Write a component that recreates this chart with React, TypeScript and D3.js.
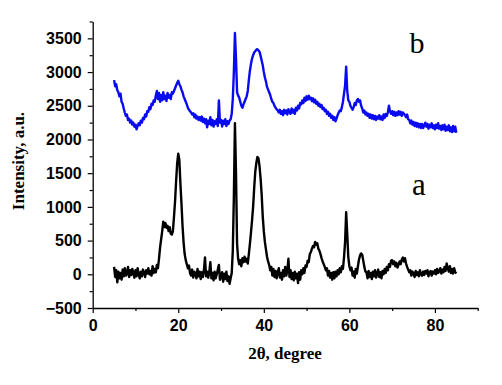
import * as d3 from 'd3';
import React, { useEffect, useRef } from 'react';

// 2-theta grid of the scan, 5..85 degree in 0.25 steps
const angles: number[] = d3.range(0, 321).map((i) => 5 + i * 0.25);

// sample a (black), 4 readings per degree starting at 5.00
const seriesA: number[] = [
  110, -40, 60, -120,
  40, -60, 20, -80,
  70, -30, 90, -20,
  10, 110, -40, 60,
  -10, 80, 20, -50,
  60, -30, 90, 0,
  -60, 40, -30, 70,
  20, -40, 60, 10,
  90, 0, 50, -20,
  120, 20, 80, 30,
  140, 90, 230, 400,
  520, 640, 780, 700,
  760, 690, 720, 640,
  700, 600, 590, 640,
  850, 1080, 1380, 1650,
  1790, 1700, 1350, 1050,
  720, 470, 300, 210,
  150, 90, 130, 20,
  -20, 70, -50, 40,
  10, -60, 80, -30,
  40, -70, 30, -40,
  60, 250, -30, 40,
  -50, 30, 180, -60,
  20, -90, 40, -60,
  0, 70, 140, -80,
  -40, 30, -110, 10,
  -70, 40, -100, -30,
  -140, -60, 20, 350,
  1150, 2240, 1500, 450,
  230, 150, 210, 120,
  240, 180, 260, 190,
  230, 160, 300, 450,
  620, 800, 1000, 1280,
  1520, 1650, 1740, 1720,
  1600, 1420, 1180, 860,
  640, 480, 370, 260,
  190, 140, 60, 110,
  -20, 80, -40, 50,
  -60, 30, 90, -50,
  20, -80, 60, -30,
  110, -20, 50, 230,
  -40, 60, -70, 20,
  -90, 40, -60, 10,
  -130, 30, -80, 60,
  0, 90, 20, 130,
  110, 200, 180, 300,
  330, 380, 420, 400,
  480, 440, 460, 380,
  350, 300, 240, 190,
  150, 110, 60, 90,
  -20, 50, -50, 20,
  -80, 30, -60, 40,
  -30, 60, 0, 90,
  30, 120, 80, 250,
  480, 920, 600, 250,
  120, 60, 100, -20,
  40, -50, 80, 10,
  120, 220, 280, 310,
  290, 200, 110, 40,
  30, -60, 50, -40,
  20, -70, 40, -30,
  60, -50, 10, 70,
  -40, 30, -60, 50,
  0, 80, 20, 110,
  60, 150, 110, 200,
  210, 150, 190, 120,
  170, 100, 140, 190,
  150, 220, 250, 190,
  240, 160, 110, 70,
  30, 60, -20, 40,
  10, -40, 50, -10,
  30, -30, 60, 0,
  -20, 40, -10, 50,
  10, 60, -30, 30,
  50, -20, 40, 10,
  60, 0, 80, 20,
  40, 90, 10, 70,
  30, 110, 50, 160,
  90, 40, 120, 20,
  80, 10, 90, 30,
  10,
];

// sample b (blue), same grid
const seriesB: number[] = [
  2880, 2790, 2820, 2730,
  2700, 2640, 2680, 2560,
  2530, 2460, 2400, 2350,
  2370, 2290, 2310, 2250,
  2280, 2220, 2250, 2190,
  2220, 2150, 2200, 2240,
  2210, 2280, 2250, 2320,
  2300, 2370, 2340, 2420,
  2410, 2480, 2450, 2530,
  2510, 2580, 2560, 2650,
  2720, 2600, 2690, 2560,
  2660, 2580, 2700, 2600,
  2650, 2570, 2690, 2620,
  2660, 2600, 2700, 2680,
  2720, 2760, 2800, 2840,
  2870, 2820, 2790, 2740,
  2700, 2640, 2600, 2560,
  2520, 2470, 2440, 2420,
  2400, 2370, 2390, 2330,
  2370, 2310, 2340, 2290,
  2330, 2280, 2340, 2260,
  2310, 2240, 2300, 2180,
  2280, 2230, 2330, 2210,
  2290, 2190, 2270, 2230,
  2300, 2200, 2580, 2250,
  2290, 2190, 2280, 2230,
  2300, 2200, 2270, 2230,
  2280, 2300, 2380, 2600,
  3000, 3580, 3200, 2700,
  2650, 2620, 2560, 2500,
  2470, 2520, 2560, 2600,
  2640, 2720, 2880, 3020,
  3120, 3200, 3250, 3290,
  3310, 3330, 3340, 3320,
  3300, 3240, 3170, 3100,
  3000, 2920, 2860, 2780,
  2740, 2700, 2660, 2600,
  2560, 2540, 2500, 2470,
  2450, 2430, 2400, 2440,
  2380, 2420, 2360, 2440,
  2390, 2430, 2370, 2450,
  2410, 2380, 2460, 2400,
  2440, 2380, 2470, 2430,
  2500, 2460, 2540, 2520,
  2580, 2540, 2620, 2570,
  2640, 2590, 2650, 2600,
  2620, 2570, 2610, 2550,
  2590, 2530, 2560, 2500,
  2530, 2480, 2510, 2450,
  2470, 2420, 2440, 2380,
  2410, 2350, 2380, 2320,
  2350, 2290, 2330, 2270,
  2310, 2360, 2400, 2430,
  2420, 2480, 2560, 2680,
  2800, 3080, 2720, 2580,
  2560, 2500, 2470, 2440,
  2480, 2540, 2510, 2580,
  2600, 2560, 2580, 2500,
  2460, 2400, 2430, 2370,
  2400, 2350, 2380, 2320,
  2370, 2310, 2360, 2300,
  2350, 2290, 2340, 2310,
  2360, 2300, 2340, 2290,
  2370, 2320, 2380, 2350,
  2400, 2500, 2420, 2380,
  2420, 2360, 2410, 2350,
  2400, 2360, 2420, 2370,
  2410, 2350, 2400, 2380,
  2360, 2330, 2370, 2300,
  2290, 2240, 2280, 2220,
  2260, 2200, 2250, 2190,
  2240, 2180, 2230, 2170,
  2230, 2170, 2210, 2250,
  2190, 2230, 2160, 2220,
  2180, 2240, 2170, 2210,
  2150, 2220, 2170, 2240,
  2160, 2200, 2140, 2210,
  2150, 2220, 2130, 2190,
  2140, 2210, 2120, 2180,
  2110, 2200, 2120, 2190,
  2100,
];

const xMajorTicks = [0, 20, 40, 60, 80];
const xMinorTicks = [10, 30, 50, 70, 90];
const yMajorTicks = [-500, 0, 500, 1000, 1500, 2000, 2500, 3000, 3500];
const yMinorTicks = [-250, 250, 750, 1250, 1750, 2250, 2750, 3250, 3750];

const App = () => {
  const chartRef = useRef<SVGSVGElement>(null);

  useEffect(() => {
    const svg = d3.select(chartRef.current);
    svg.selectAll('*').remove();

    const x = d3.scaleLinear().domain([0, 90]).range([92.7, 477.7]);
    const y = d3.scaleLinear().domain([-500, 3750]).range([308, 21.5]);

    const line = d3.line<number>()
      .x((_, i) => x(angles[i]))
      .y((d) => y(d));

    // curves
    svg.append('path')
      .datum(seriesB)
      .attr('d', line)
      .attr('fill', 'none')
      .attr('stroke', '#0a0af0')
      .attr('stroke-width', 2.4)
      .attr('stroke-linejoin', 'round');

    svg.append('path')
      .datum(seriesA)
      .attr('d', line)
      .attr('fill', 'none')
      .attr('stroke', '#000')
      .attr('stroke-width', 2.4)
      .attr('stroke-linejoin', 'round');

    // x axis
    const gx = svg.append('g').attr('transform', 'translate(0,308)');
    gx.call(d3.axisBottom(x).tickValues(xMinorTicks).tickSize(3).tickFormat(() => '').tickSizeOuter(0));
    gx.call((g) => g.select('.domain').remove());
    const gx2 = svg.append('g').attr('transform', 'translate(0,308)');
    gx2.call(d3.axisBottom(x).tickValues(xMajorTicks).tickSize(5).tickPadding(7).tickSizeOuter(0).tickFormat(d3.format('d')));

    // y axis
    const gy = svg.append('g').attr('transform', 'translate(92.7,0)');
    gy.call(d3.axisLeft(y).tickValues(yMinorTicks).tickSize(3).tickFormat(() => '').tickSizeOuter(0));
    gy.call((g) => g.select('.domain').remove());
    const gy2 = svg.append('g').attr('transform', 'translate(92.7,0)');
    gy2.call(d3.axisLeft(y).tickValues(yMajorTicks).tickSize(5).tickPadding(6).tickSizeOuter(0).tickFormat(d3.format('d')));

    svg.selectAll('.domain').attr('stroke', '#000').attr('stroke-width', 1.3);
    svg.selectAll('.tick line').attr('stroke', '#000').attr('stroke-width', 1.2);
    svg.selectAll('.tick text')
      .attr('fill', '#000')
      .attr('font-family', '"Liberation Sans", Arial, sans-serif')
      .attr('font-weight', 'bold')
      .attr('font-size', 16);

    // axis titles
    svg.append('text')
      .text('Intensity, a.u.')
      .attr('transform', 'translate(24,161) rotate(-90)')
      .attr('text-anchor', 'middle')
      .attr('font-family', '"Liberation Serif", "Times New Roman", serif')
      .attr('font-weight', 'bold')
      .attr('font-size', 17);

    svg.append('text')
      .text('2θ, degree')
      .attr('x', 285)
      .attr('y', 359)
      .attr('text-anchor', 'middle')
      .attr('font-family', '"Liberation Serif", "Times New Roman", serif')
      .attr('font-weight', 'bold')
      .attr('font-size', 17);

    // curve labels
    svg.append('text')
      .text('b')
      .attr('x', 417)
      .attr('y', 53)
      .attr('text-anchor', 'middle')
      .attr('font-family', '"Liberation Serif", "Times New Roman", serif')
      .attr('font-size', 30);

    svg.append('text')
      .text('a')
      .attr('x', 419)
      .attr('y', 195)
      .attr('text-anchor', 'middle')
      .attr('font-family', '"Liberation Serif", "Times New Roman", serif')
      .attr('font-size', 31);
  }, []);

  return (
    <svg
      ref={chartRef}
      width={502}
      height={385}
      style={{ position: 'absolute', left: 0, top: 0, background: '#fff' }}
    />
  );
};

export default App;
